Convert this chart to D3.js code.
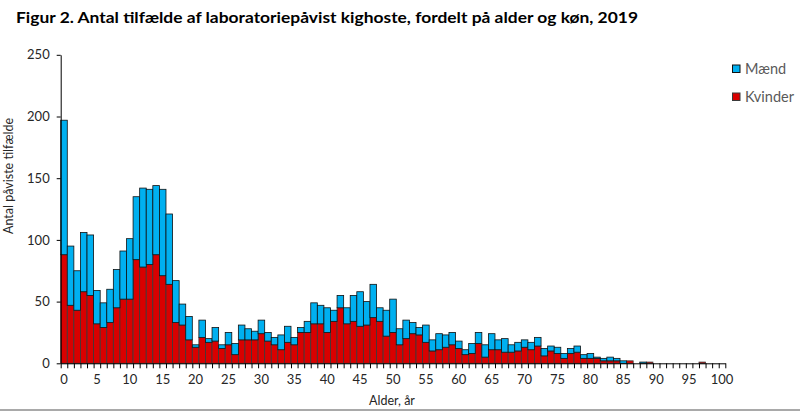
<!DOCTYPE html>
<html>
<head>
<meta charset="utf-8">
<script src="https://cdn.jsdelivr.net/npm/d3@7"></script>
<style>
    body { margin: 0; background: #fff; }
    svg { display: block; font-family: Lato, "Open Sans", sans-serif; }
</style>
</head>
<body>
<svg id="chart" width="800" height="411"></svg>
<script>
// ages 0..100
const ages = d3.range(0, 101);

// women (red, bottom of stack)
const kvinder = [
    88, 47, 43, 58, 55, 32, 29, 33, 45, 52,
    52, 84, 78, 80, 88, 71, 64, 33, 31, 19,
    13, 21, 17, 18, 12, 15, 7, 19, 19, 19,
    24, 18, 15, 11, 17, 15, 25, 25, 32, 32,
    25, 34, 45, 32, 34, 30, 31, 37, 34, 22,
    25, 15, 20, 24, 23, 17, 10, 11, 13, 15,
    12, 7, 8, 16, 5, 11, 11, 9, 9, 10,
    13, 11, 14, 6, 10, 8, 4, 8, 9, 4,
    4, 4, 2, 2, 2, 0, 2, 0, 0, 1,
    0, 0, 0, 0, 0, 0, 0, 1, 0, 0, 0
];

// men (blue, on top)
const maend = [
    109, 48, 32, 48, 49, 27, 20, 27, 31, 39,
    49, 51, 64, 61, 56, 70, 57, 34, 17, 19,
    2, 14, 3, 11, 3, 10, 9, 12, 9, 7,
    11, 7, 6, 12, 13, 6, 4, 9, 17, 15,
    20, 9, 10, 13, 21, 28, 19, 27, 11, 21,
    27, 13, 15, 9, 6, 14, 9, 13, 10, 10,
    6, 4, 8, 9, 10, 13, 8, 11, 6, 7,
    6, 6, 7, 6, 4, 5, 4, 4, 5, 3,
    4, 1, 2, 3, 2, 2, 0, 0, 1, 0,
    0, 0, 0, 0, 0, 0, 0, 0, 0, 0, 0
];

const seriesNames = ["Kvinder", "Mænd"];
const seriesColors = ["#d90000", "#00b0f0"];
const yTicks = [0, 50, 100, 150, 200, 250];
const xLabels = d3.range(0, 101, 5);

const svg = d3.select("#chart");

const x = d3.scaleBand()
    .domain(ages)
    .range([60.7, 725.3])
    .padding(0);

// linear twin of the band scale, for ticks on bar boundaries
const xEdge = d3.scaleLinear()
    .domain([-0.5, 100.5])
    .range([60.7, 725.3]);

const y = d3.scaleLinear()
    .domain([0, 250])
    .range([363.3, 54.8]);

const table = ages.map((a, i) => ({age: a, Kvinder: kvinder[i], "Mænd": maend[i]}));
const stacked = d3.stack().keys(seriesNames)(table);

// bars
svg.append("g")
    .selectAll("g")
    .data(stacked).enter()
    .append("g")
    .attr("fill", (d, i) => seriesColors[i])
    .attr("stroke", (d, i) => i === 0 ? "#3a3a3a" : "#111")
    .attr("stroke-width", 0.8)
    .selectAll("rect")
    .data(d => d.filter(p => p[1] > p[0]))
    .enter()
    .append("rect")
    .attr("x", d => x(d.data.age))
    .attr("width", x.bandwidth())
    .attr("y", d => y(d[1]))
    .attr("height", d => y(d[0]) - y(d[1]));

// y axis
const yAxis = svg.append("g")
    .attr("transform", "translate(60.7,0)")
    .call(d3.axisLeft(y).tickValues(yTicks).tickSize(4).tickSizeOuter(0).tickPadding(7));
yAxis.selectAll("text").attr("font-size", 13).attr("fill", "#262626")
    .attr("font-family", "Lato, sans-serif");
yAxis.selectAll("line, path").attr("stroke", "#000");

// x axis ticks at bar edges
const xTicksG = svg.append("g")
    .attr("transform", "translate(0,363.3)")
    .call(d3.axisBottom(xEdge).tickValues(d3.range(-0.5, 101, 1)).tickSize(5).tickSizeOuter(0).tickFormat(""));
xTicksG.selectAll("line, path").attr("stroke", "#000");

// x labels centered on bars
const xLab = svg.append("g")
    .attr("transform", "translate(0,363.3)")
    .call(d3.axisBottom(x).tickValues(xLabels).tickSize(0).tickPadding(11));
xLab.select(".domain").remove();
xLab.selectAll("text").attr("font-size", 13).attr("fill", "#262626")
    .attr("font-family", "Lato, sans-serif");

// axis titles
svg.append("text")
    .attr("transform", "translate(13,176) rotate(-90)")
    .attr("text-anchor", "middle")
    .attr("font-size", 12.5)
    .attr("fill", "#262626")
    .text("Antal påviste tilfælde");

svg.append("text")
    .attr("x", 392)
    .attr("y", 405)
    .attr("text-anchor", "middle")
    .attr("font-size", 12.5)
    .attr("fill", "#262626")
    .text("Alder, år");

// title
svg.append("text")
    .attr("x", 16)
    .attr("y", 23)
    .attr("font-size", 15)
    .attr("font-weight", "bold")
    .attr("fill", "#000")
    .attr("textLength", 622)
    .attr("lengthAdjust", "spacingAndGlyphs")
    .text("Figur 2. Antal tilfælde af laboratoriepåvist kighoste, fordelt på alder og køn, 2019");

// legend (Mænd first)
const legend = svg.append("g");
const legendItems = [
    {name: seriesNames[1], color: seriesColors[1], stroke: "#111", y: 65},
    {name: seriesNames[0], color: seriesColors[0], stroke: "#3a3a3a", y: 93}
];
legendItems.forEach(item => {
    legend.append("rect")
        .attr("x", 732.5)
        .attr("y", item.y)
        .attr("width", 7.5)
        .attr("height", 7.5)
        .attr("fill", item.color)
        .attr("stroke", item.stroke)
        .attr("stroke-width", 1);
    legend.append("text")
        .attr("x", 745)
        .attr("y", item.y + 8.5)
        .attr("font-size", 14.5)
        .attr("fill", "#595959")
        .text(item.name);
});

// bottom frame line
svg.append("line")
    .attr("x1", 0).attr("x2", 800)
    .attr("y1", 410).attr("y2", 410)
    .attr("stroke", "#8c8c8c")
    .attr("stroke-width", 1.5);
</script>
</body>
</html>
